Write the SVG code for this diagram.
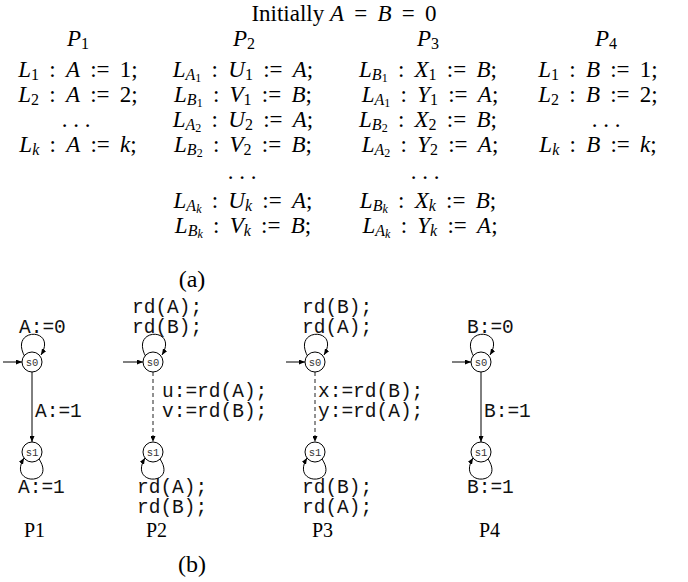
<svg xmlns="http://www.w3.org/2000/svg" width="688" height="582" viewBox="0 0 688 582">
<style>
.t{font-family:"Liberation Serif","Times New Roman",serif;font-size:23px;fill:#000;word-spacing:4.5px}
.b{font-family:"Liberation Serif","Times New Roman",serif;font-size:20px;fill:#000}
.cap{font-family:"Liberation Serif","Times New Roman",serif;font-size:24px;fill:#000;text-anchor:middle}
.i{font-style:italic}
.s{font-size:16px}
.ss{font-size:12px}
.n{word-spacing:0}
.m{font-family:"Liberation Mono","Courier New",monospace;font-size:19.5px;fill:#111}
.sl{font-family:"Liberation Mono","Courier New",monospace;font-size:10.5px;fill:#333;text-anchor:middle}
.c{text-anchor:middle}
.st{fill:#fff;stroke:#000;stroke-width:1}
.e{fill:none;stroke:#000;stroke-width:1}
.d{fill:none;stroke:#222;stroke-width:1;stroke-dasharray:4,3}
</style>
<defs>
<marker id="ah" markerUnits="userSpaceOnUse" markerWidth="6" markerHeight="5" refX="6" refY="2.5" orient="auto">
<path d="M0,0 L6,2.5 L0,5 z" fill="#000"/>
</marker>
</defs>
<rect width="688" height="582" fill="#fff"/>

<g id="table">
<text class="t c" x="344" y="21"><tspan class="n">Initially </tspan><tspan class="i">A</tspan> = <tspan class="i">B</tspan> = 0</text>
<text class="t c" x="78" y="46"><tspan class="i">P</tspan><tspan class="s" dy="3">1</tspan></text>
<text class="t c" x="244" y="46"><tspan class="i">P</tspan><tspan class="s" dy="3">2</tspan></text>
<text class="t c" x="428" y="46"><tspan class="i">P</tspan><tspan class="s" dy="3">3</tspan></text>
<text class="t c" x="606" y="46"><tspan class="i">P</tspan><tspan class="s" dy="3">4</tspan></text>

<text class="t c" x="78" y="77"><tspan class="i">L</tspan><tspan class="s" dy="3">1</tspan><tspan dy="-3"> : </tspan><tspan class="i">A</tspan> := 1;</text>
<text class="t c" x="243" y="77"><tspan class="i">L</tspan><tspan class="i s" dy="3">A</tspan><tspan class="ss" dy="2">1</tspan><tspan dy="-5"> : </tspan><tspan class="i">U</tspan><tspan class="s" dy="3">1</tspan><tspan dy="-3"> := </tspan><tspan class="i">A</tspan>;</text>
<text class="t c" x="428" y="77"><tspan class="i">L</tspan><tspan class="i s" dy="3">B</tspan><tspan class="ss" dy="2">1</tspan><tspan dy="-5"> : </tspan><tspan class="i">X</tspan><tspan class="s" dy="3">1</tspan><tspan dy="-3"> := </tspan><tspan class="i">B</tspan>;</text>
<text class="t c" x="598" y="77"><tspan class="i">L</tspan><tspan class="s" dy="3">1</tspan><tspan dy="-3"> : </tspan><tspan class="i">B</tspan> := 1;</text>

<text class="t c" x="78" y="102"><tspan class="i">L</tspan><tspan class="s" dy="3">2</tspan><tspan dy="-3"> : </tspan><tspan class="i">A</tspan> := 2;</text>
<text class="t c" x="243" y="102"><tspan class="i">L</tspan><tspan class="i s" dy="3">B</tspan><tspan class="ss" dy="2">1</tspan><tspan dy="-5"> : </tspan><tspan class="i">V</tspan><tspan class="s" dy="3">1</tspan><tspan dy="-3"> := </tspan><tspan class="i">B</tspan>;</text>
<text class="t c" x="430" y="102"><tspan class="i">L</tspan><tspan class="i s" dy="3">A</tspan><tspan class="ss" dy="2">1</tspan><tspan dy="-5"> : </tspan><tspan class="i">Y</tspan><tspan class="s" dy="3">1</tspan><tspan dy="-3"> := </tspan><tspan class="i">A</tspan>;</text>
<text class="t c" x="598" y="102"><tspan class="i">L</tspan><tspan class="s" dy="3">2</tspan><tspan dy="-3"> : </tspan><tspan class="i">B</tspan> := 2;</text>

<text class="t c n" x="76" y="127">. . .</text>
<text class="t c" x="243" y="127"><tspan class="i">L</tspan><tspan class="i s" dy="3">A</tspan><tspan class="ss" dy="2">2</tspan><tspan dy="-5"> : </tspan><tspan class="i">U</tspan><tspan class="s" dy="3">2</tspan><tspan dy="-3"> := </tspan><tspan class="i">A</tspan>;</text>
<text class="t c" x="428" y="127"><tspan class="i">L</tspan><tspan class="i s" dy="3">B</tspan><tspan class="ss" dy="2">2</tspan><tspan dy="-5"> : </tspan><tspan class="i">X</tspan><tspan class="s" dy="3">2</tspan><tspan dy="-3"> := </tspan><tspan class="i">B</tspan>;</text>
<text class="t c n" x="606" y="127">. . .</text>

<text class="t c" x="78" y="152"><tspan class="i">L</tspan><tspan class="i s" dy="3">k</tspan><tspan dy="-3"> : </tspan><tspan class="i">A</tspan> := <tspan class="i">k</tspan>;</text>
<text class="t c" x="243" y="152"><tspan class="i">L</tspan><tspan class="i s" dy="3">B</tspan><tspan class="ss" dy="2">2</tspan><tspan dy="-5"> : </tspan><tspan class="i">V</tspan><tspan class="s" dy="3">2</tspan><tspan dy="-3"> := </tspan><tspan class="i">B</tspan>;</text>
<text class="t c" x="430" y="152"><tspan class="i">L</tspan><tspan class="i s" dy="3">A</tspan><tspan class="ss" dy="2">2</tspan><tspan dy="-5"> : </tspan><tspan class="i">Y</tspan><tspan class="s" dy="3">2</tspan><tspan dy="-3"> := </tspan><tspan class="i">A</tspan>;</text>
<text class="t c" x="598" y="152"><tspan class="i">L</tspan><tspan class="i s" dy="3">k</tspan><tspan dy="-3"> : </tspan><tspan class="i">B</tspan> := <tspan class="i">k</tspan>;</text>

<text class="t c n" x="242" y="179">. . .</text>
<text class="t c n" x="425" y="179">. . .</text>

<text class="t c" x="243" y="208"><tspan class="i">L</tspan><tspan class="i s" dy="3">A</tspan><tspan class="i ss" dy="2">k</tspan><tspan dy="-5"> : </tspan><tspan class="i">U</tspan><tspan class="i s" dy="3">k</tspan><tspan dy="-3"> := </tspan><tspan class="i">A</tspan>;</text>
<text class="t c" x="428" y="208"><tspan class="i">L</tspan><tspan class="i s" dy="3">B</tspan><tspan class="i ss" dy="2">k</tspan><tspan dy="-5"> : </tspan><tspan class="i">X</tspan><tspan class="i s" dy="3">k</tspan><tspan dy="-3"> := </tspan><tspan class="i">B</tspan>;</text>

<text class="t c" x="243" y="233"><tspan class="i">L</tspan><tspan class="i s" dy="3">B</tspan><tspan class="i ss" dy="2">k</tspan><tspan dy="-5"> : </tspan><tspan class="i">V</tspan><tspan class="i s" dy="3">k</tspan><tspan dy="-3"> := </tspan><tspan class="i">B</tspan>;</text>
<text class="t c" x="430" y="233"><tspan class="i">L</tspan><tspan class="i s" dy="3">A</tspan><tspan class="i ss" dy="2">k</tspan><tspan dy="-5"> : </tspan><tspan class="i">Y</tspan><tspan class="i s" dy="3">k</tspan><tspan dy="-3"> := </tspan><tspan class="i">A</tspan>;</text>

<text class="cap" x="192" y="287">(a)</text>
</g>

<g id="edges">
<path class="e" d="M3,362 L22,362" marker-end="url(#ah)"/>
<path class="e" d="M25,357 C8,327 58,327 41,355" marker-end="url(#ah)"/>
<path class="e" d="M32,372 L32,442" marker-end="url(#ah)"/>
<path class="e" d="M39,459 C57,486 7,486 24,458" marker-end="url(#ah)"/>

<path class="e" d="M123,362 L143,362" marker-end="url(#ah)"/>
<path class="e" d="M146,357 C129,327 179,327 162,355" marker-end="url(#ah)"/>
<path class="d" d="M153,372 L153,442" marker-end="url(#ah)"/>
<path class="e" d="M160,459 C178,486 128,486 145,458" marker-end="url(#ah)"/>

<path class="e" d="M286,362 L305,362" marker-end="url(#ah)"/>
<path class="e" d="M308,357 C291,327 341,327 324,355" marker-end="url(#ah)"/>
<path class="d" d="M315,372 L315,442" marker-end="url(#ah)"/>
<path class="e" d="M322,459 C340,486 290,486 307,458" marker-end="url(#ah)"/>

<path class="e" d="M452,362 L471,362" marker-end="url(#ah)"/>
<path class="e" d="M474,357 C457,327 507,327 490,355" marker-end="url(#ah)"/>
<path class="e" d="M481,372 L481,442" marker-end="url(#ah)"/>
<path class="e" d="M488,459 C506,486 456,486 473,458" marker-end="url(#ah)"/>
</g>

<g id="P1">
<text class="m" x="19" y="333">A:=0</text>
<g id="P1-s0"><circle class="st" cx="32" cy="362" r="10"/><text class="sl" x="32" y="366">s0</text></g>
<text class="m" x="35" y="417">A:=1</text>
<g id="P1-s1"><circle class="st" cx="32" cy="452" r="10"/><text class="sl" x="32" y="456">s1</text></g>
<text class="m" x="18" y="493">A:=1</text>
<text class="b" x="24" y="537">P1</text>
</g>

<g id="P2">
<text class="m" x="132" y="313">rd(A);</text>
<text class="m" x="132" y="333">rd(B);</text>
<g id="P2-s0"><circle class="st" cx="153" cy="362" r="10"/><text class="sl" x="153" y="366">s0</text></g>
<text class="m" x="162" y="397">u:=rd(A);</text>
<text class="m" x="162" y="417">v:=rd(B);</text>
<g id="P2-s1"><circle class="st" cx="153" cy="452" r="10"/><text class="sl" x="153" y="456">s1</text></g>
<text class="m" x="137" y="493">rd(A);</text>
<text class="m" x="137" y="513">rd(B);</text>
<text class="b" x="146" y="537">P2</text>
</g>

<g id="P3">
<text class="m" x="302" y="313">rd(B);</text>
<text class="m" x="302" y="333">rd(A);</text>
<g id="P3-s0"><circle class="st" cx="315" cy="362" r="10"/><text class="sl" x="315" y="366">s0</text></g>
<text class="m" x="318" y="397">x:=rd(B);</text>
<text class="m" x="318" y="417">y:=rd(A);</text>
<g id="P3-s1"><circle class="st" cx="315" cy="452" r="10"/><text class="sl" x="315" y="456">s1</text></g>
<text class="m" x="302" y="493">rd(B);</text>
<text class="m" x="302" y="513">rd(A);</text>
<text class="b" x="312" y="537">P3</text>
</g>

<g id="P4">
<text class="m" x="467" y="333">B:=0</text>
<g id="P4-s0"><circle class="st" cx="481" cy="362" r="10"/><text class="sl" x="481" y="366">s0</text></g>
<text class="m" x="484" y="417">B:=1</text>
<g id="P4-s1"><circle class="st" cx="481" cy="452" r="10"/><text class="sl" x="481" y="456">s1</text></g>
<text class="m" x="467" y="493">B:=1</text>
<text class="b" x="479" y="537">P4</text>
</g>

<text class="cap" x="192" y="572">(b)</text>
</svg>
